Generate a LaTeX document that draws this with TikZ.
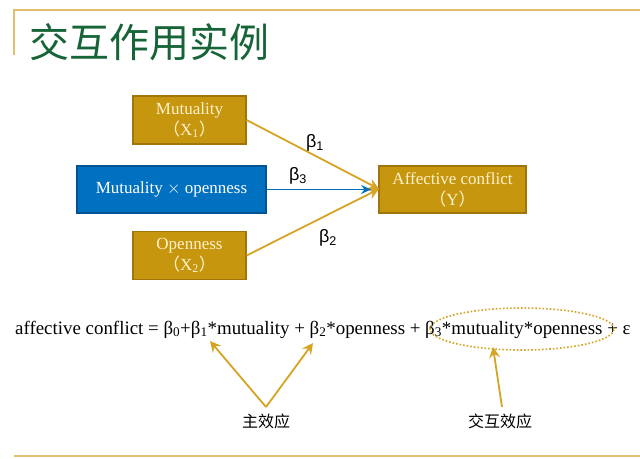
\documentclass[tikz,border=0pt]{standalone}
\usepackage{fontspec}
\setmainfont{Liberation Serif}
\newfontfamily\cjk{Noto Sans CJK SC}
\newfontfamily\arialf{Liberation Sans}
\usetikzlibrary{arrows.meta,shapes.geometric}
\definecolor{goldfill}{RGB}{198,150,14}
\definecolor{golddraw}{RGB}{160,118,10}
\definecolor{goldline}{RGB}{214,164,34}
\definecolor{bluefill}{RGB}{0,112,192}
\definecolor{bluedraw}{RGB}{0,84,150}
\definecolor{cream}{RGB}{255,242,204}
\definecolor{titlegreen}{RGB}{22,100,55}
\definecolor{ruleline}{RGB}{226,190,110}
\begin{document}
\begin{tikzpicture}[x=1pt,y=-1pt,
  goldbox/.style={draw=golddraw,fill=goldfill,line width=1.2pt,text=cream,font=\fontsize{17}{21}\selectfont,align=center,inner sep=0pt},
  bluebox/.style={draw=bluedraw,fill=bluefill,line width=1.2pt,text=white,font=\fontsize{17}{21}\selectfont,align=center,inner sep=0pt},
  goldarrow/.style={draw=goldline,line width=1.8pt,-{Stealth[length=11pt,width=11pt,inset=4pt]}},
  bluearrow/.style={draw=bluefill,line width=1.8pt,-{Stealth[length=10pt,width=9pt,inset=3.5pt]}},
  blabel/.style={font=\arialf\fontsize{18}{20}\selectfont,inner sep=0pt}]
\useasboundingbox (0,0) rectangle (640,458);
\fill[white] (0,0) rectangle (640,458);
% frame lines
\coordinate (tl) at (14,10);
\coordinate (tr) at (640,10);
\coordinate (vl) at (14,55);
\draw[ruleline,line width=1.4pt] (vl) -- (tl) -- (tr);
\coordinate (bl) at (14,456);
\coordinate (br) at (640,456);
\draw[ruleline,line width=1.4pt] (bl) -- (br);
% title
\node[text=titlegreen,font=\cjk\fontsize{40}{44}\selectfont,anchor=west,inner sep=0pt] (title) at (29,42) {交互作用实例};
% boxes
\node[goldbox,minimum width=113pt,minimum height=48pt] (x1) at (189.5,120) {Mutuality\\{\cjk （}X\textsubscript{1}{\cjk ）}};
\node[bluebox,minimum width=189pt,minimum height=47pt] (x3) at (171.5,189.5) {Mutuality $\times$ openness};
\node[goldbox,minimum width=113pt,minimum height=48pt] (x2) at (189.5,255.5) {Openness\\{\cjk （}X\textsubscript{2}{\cjk ）}};
\node[goldbox,minimum width=147pt,minimum height=47pt] (y) at (452.5,189.5) {Affective conflict\\{\cjk （}Y{\cjk ）}};
% arrows
\coordinate (yin) at (379,189);
\draw[goldarrow] (x1.east) -- (yin);
\draw[goldarrow] (x2.east) -- (yin);
\coordinate (bin) at (371,189.5);
\draw[bluearrow] (x3.east) -- (bin);
% beta labels
\node[blabel] (b1) at (315,143) {β\textsubscript{1}};
\node[blabel] (b3) at (298,176) {β\textsubscript{3}};
\node[blabel] (b2) at (328,238) {β\textsubscript{2}};
% equation
\node[font=\fontsize{18.9}{21}\selectfont,inner sep=0pt,anchor=base west] (eq) at (15,334)
 {affective conflict = β\textsubscript{0}+β\textsubscript{1}*mutuality + β\textsubscript{2}*openness + β\textsubscript{3}*mutuality*openness + ε};
% dotted ellipse
\node[ellipse,draw=goldline,line width=1.6pt,dotted,minimum width=184pt,minimum height=42pt,inner sep=0pt] (ell) at (522,329) {};
% labels
\node[font=\cjk\fontsize{16}{18}\selectfont,inner sep=0pt] (main) at (266,421) {主效应};
\node[font=\cjk\fontsize{16}{18}\selectfont,inner sep=0pt] (inter) at (500,421) {交互效应};
\coordinate (apex) at (266,407);
\coordinate (t1) at (210,341);
\coordinate (t2) at (313,343);
\draw[goldarrow] (apex) -- (t1);
\draw[goldarrow] (apex) -- (t2);
\coordinate (ia) at (502,407);
\coordinate (it) at (493,347);
\draw[goldarrow] (ia) -- (it);
\end{tikzpicture}
\end{document}
